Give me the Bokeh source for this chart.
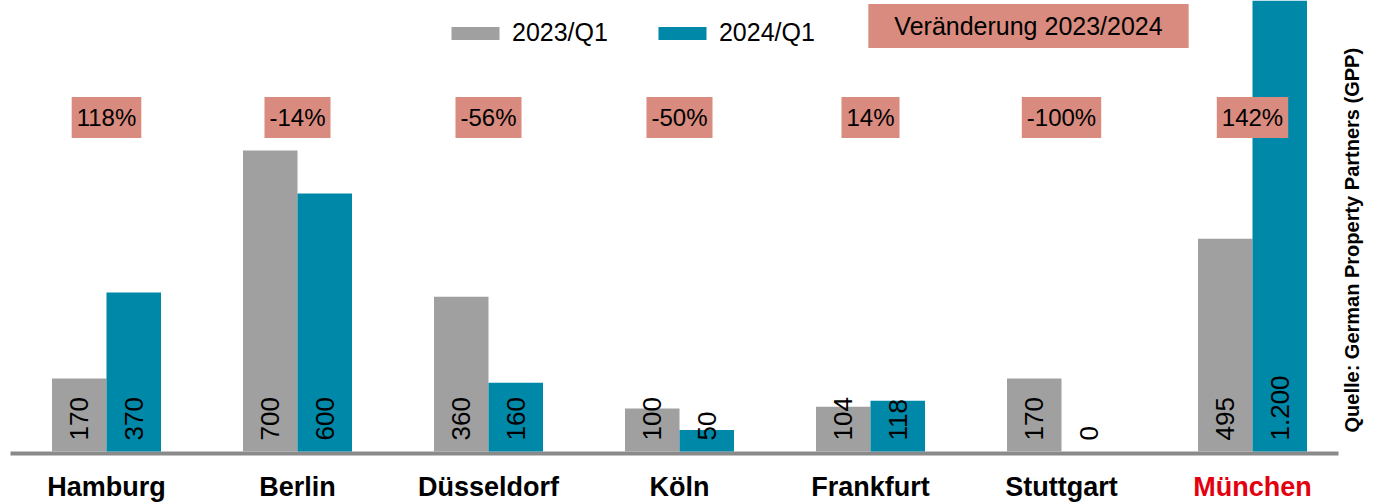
import numpy as np
from bokeh.plotting import figure
from bokeh.models import (ColumnDataSource, Legend, LegendItem, Label, Range1d)
from bokeh.core.properties import value
from bokeh.embed import file_html
from bokeh.resources import INLINE

# ---------------- data ----------------
cities = ["Hamburg", "Berlin", "Düsseldorf", "Köln", "Frankfurt", "Stuttgart", "München"]
q2023 = [170, 700, 360, 100, 104, 170, 495]
q2024 = [370, 600, 160, 50, 118, 0, 1200]
change_labels = ["118%", "-14%", "-56%", "-50%", "14%", "-100%", "142%"]
series_names = ["2023/Q1", "2024/Q1"]
change_title = "Veränderung 2023/2024"
source_note = "Quelle: German Property Partners (GPP)"
city_colors = ["#000000"] * 6 + ["#e3000f"]

# ---------------- style ----------------
FONT = "Liberation Sans"
GREY = "#a0a0a0"
TEAL = "#0088a8"
SALMON = "#d88b7e"
AXIS = "#8a8a8a"


def fmt(v):
    return f"{v:,}".replace(",", ".")


W, H = 1373, 502
PX_PER_UNIT = 0.43          # vertical scale (px per value unit)
GROUP_PX = 191              # spacing between groups in px
BASE_PX = 451               # pixel row of value 0
x_start = -106 / GROUP_PX
x_end = x_start + W / GROUP_PX
y_start = -(H - BASE_PX) / PX_PER_UNIT
y_end = BASE_PX / PX_PER_UNIT
bar_w = 54.5 / GROUP_PX
off = bar_w / 2


def px_to_x(px):
    return x_start + px / GROUP_PX


def px_to_y(py):
    return (BASE_PX - py) / PX_PER_UNIT


x = np.arange(len(cities), dtype=float)
src = ColumnDataSource(dict(
    x=x, xa=x - off, xb=x + off,
    a=q2023, b=q2024,
    la=[fmt(v) for v in q2023], lb=[fmt(v) for v in q2024],
    city=cities, ccol=city_colors, chg=change_labels,
))

p = figure(width=W, height=H, output_backend="svg", toolbar_location=None,
           x_range=Range1d(x_start, x_end), y_range=Range1d(y_start, y_end),
           min_border=0, x_axis_location=None, y_axis_location=None,
           background_fill_color="white", border_fill_color="white")
p.outline_line_color = None
p.xgrid.visible = False
p.ygrid.visible = False

# baseline (category axis line)
p.segment(x0=[px_to_x(10)], x1=[px_to_x(1338)], y0=[px_to_y(453)], y1=[px_to_y(453)],
          line_color=AXIS, line_width=4)

r1 = p.vbar(x="xa", top="a", bottom=0, width=bar_w, fill_color=GREY,
            line_color=None, source=src)
r2 = p.vbar(x="xb", top="b", bottom=0, width=bar_w, fill_color=TEAL,
            line_color=None, source=src)

# values inside bars (rotated)
for col, xc in (("la", "xa"), ("lb", "xb")):
    p.text(x=xc, y=0, text=col, angle=np.pi / 2, text_align="left",
           text_baseline="middle", y_offset=-11, text_font=value(FONT),
           text_font_size="26px", text_color="black", source=src)

# change boxes
p.text(x="x", y=px_to_y(117), text="chg", text_align="center", text_baseline="middle",
       text_font=value(FONT), text_font_size="24px", text_color="black",
       background_fill_color=SALMON,
       padding=dict(left=5, right=5, top=7, bottom=7), source=src)

# city labels
p.text(x="x", y=px_to_y(486), text="city", text_color="ccol", text_align="center",
       text_baseline="middle", text_font=value(FONT), text_font_size="27px",
       text_font_style="bold", source=src)

# Veränderung header box
p.add_layout(Label(x=px_to_x(1028), y=px_to_y(25.5), text=change_title,
                   text_align="center", text_baseline="middle", text_font=FONT,
                   text_font_size="25px", text_color="black",
                   background_fill_color=SALMON,
                   padding=dict(left=26, right=26, top=8, bottom=8)))

# source note (vertical)
p.add_layout(Label(x=px_to_x(1351), y=px_to_y(432), text=source_note, angle=np.pi / 2,
                   text_align="left", text_baseline="middle", text_font=FONT,
                   text_font_size="20px", text_font_style="bold", text_color="black"))

legend = Legend(items=[LegendItem(label=series_names[0], renderers=[r1]),
                       LegendItem(label=series_names[1], renderers=[r2])],
                orientation="horizontal", location=(445, H - 47),
                glyph_width=60, glyph_height=16, label_standoff=7, spacing=44,
                padding=0, margin=0, border_line_color=None,
                background_fill_alpha=0, label_text_font=FONT,
                label_text_font_size="25px", label_text_color="black")
p.add_layout(legend)

open("out.html", "w").write(file_html(p, INLINE))
